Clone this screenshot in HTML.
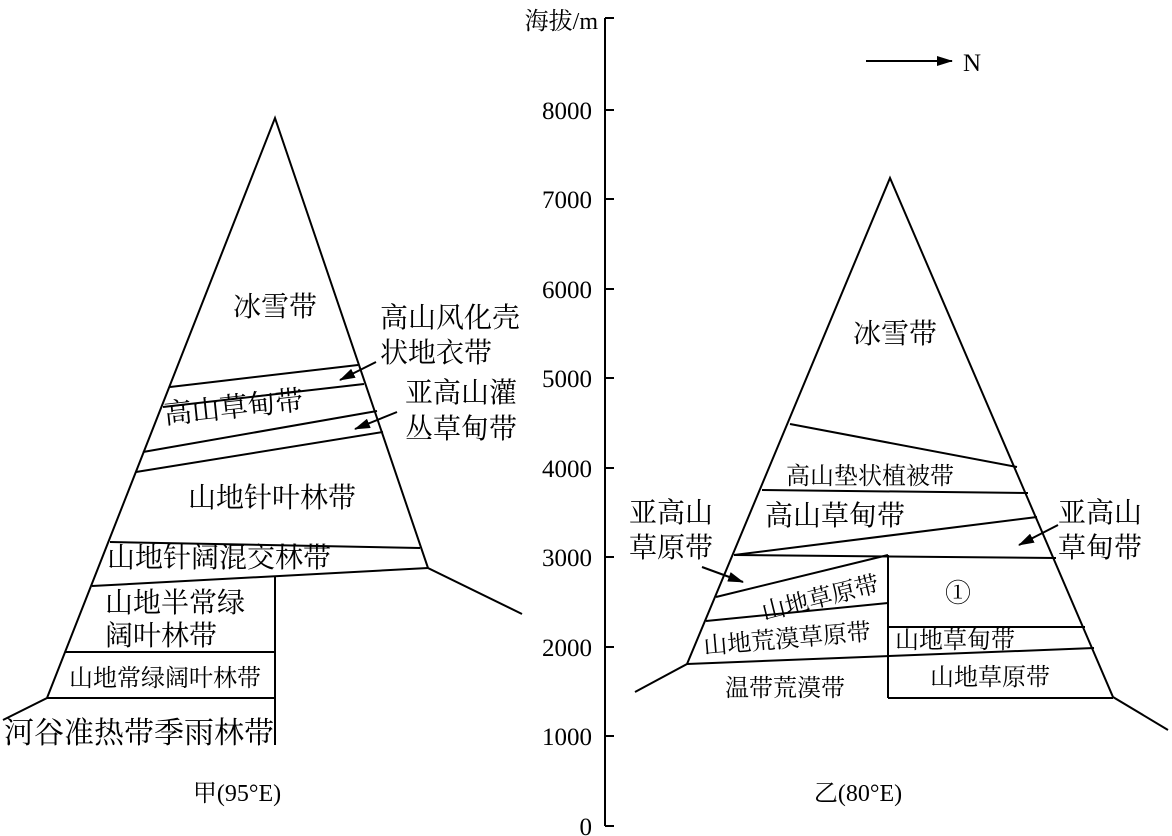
<!DOCTYPE html>
<html><head><meta charset="utf-8"><style>
html,body{margin:0;padding:0;background:#fff;}
svg{display:block;}
text{font-family:"Liberation Serif","Noto Serif CJK SC","Noto Sans CJK SC",serif;fill:#000;}
</style></head><body>
<svg width="1172" height="836" viewBox="0 0 1172 836" xmlns="http://www.w3.org/2000/svg">
<defs>
<marker id="ah2" markerWidth="16" markerHeight="10" refX="15" refY="5" orient="auto" markerUnits="userSpaceOnUse"><path d="M0,0 L16,5 L0,10 Z" fill="#000"/></marker></defs>
<g stroke="#000" stroke-width="2" fill="none">
<polyline points="3,720 47,698 275,118 428,568 522,614"/>
<line x1="170" y1="387" x2="358" y2="365"/>
<line x1="163" y1="407" x2="364" y2="384"/>
<line x1="143" y1="452" x2="377" y2="411"/>
<line x1="136" y1="472" x2="383" y2="432"/>
<line x1="110" y1="542" x2="420" y2="548"/>
<line x1="92" y1="586" x2="428" y2="568"/>
<line x1="275" y1="577" x2="275" y2="745"/>
<line x1="65" y1="652" x2="275" y2="652"/>
<line x1="47" y1="698" x2="275" y2="698"/>
<line x1="376" y1="362" x2="340" y2="380" marker-end="url(#ah2)"/>
<line x1="397" y1="412" x2="355" y2="429" marker-end="url(#ah2)"/>
<line x1="605" y1="18" x2="605" y2="826"/>
<line x1="605" y1="18" x2="614" y2="18"/>
<line x1="605" y1="110" x2="614" y2="110"/>
<line x1="605" y1="199" x2="614" y2="199"/>
<line x1="605" y1="289" x2="614" y2="289"/>
<line x1="605" y1="378" x2="614" y2="378"/>
<line x1="605" y1="468" x2="614" y2="468"/>
<line x1="605" y1="557" x2="614" y2="557"/>
<line x1="605" y1="647" x2="614" y2="647"/>
<line x1="605" y1="736" x2="614" y2="736"/>
<line x1="605" y1="826" x2="614" y2="826"/>
<polyline points="635,692 687,664 890,178 1113,697 1168,730"/>
<line x1="790" y1="424" x2="1017" y2="467"/>
<line x1="762" y1="490" x2="1028" y2="493"/>
<line x1="734" y1="555" x2="1037" y2="517"/>
<line x1="734" y1="555" x2="1056" y2="558"/>
<line x1="716" y1="597" x2="888" y2="555"/>
<line x1="888" y1="555" x2="888" y2="698"/>
<line x1="706" y1="621" x2="888" y2="603"/>
<line x1="888" y1="627" x2="1085" y2="627"/>
<line x1="687" y1="664" x2="1094" y2="648"/>
<line x1="888" y1="698" x2="1113" y2="698"/>
<line x1="702" y1="567" x2="743" y2="582" marker-end="url(#ah2)"/>
<line x1="1058" y1="525" x2="1019" y2="545" marker-end="url(#ah2)"/>
<line x1="866" y1="61" x2="952" y2="61" marker-end="url(#ah2)"/>
</g>
<g font-size="25" text-anchor="end">
<text x="592" y="119">8000</text><text x="592" y="208">7000</text><text x="592" y="298">6000</text>
<text x="592" y="387">5000</text><text x="592" y="477">4000</text><text x="592" y="566">3000</text>
<text x="592" y="656">2000</text><text x="592" y="745">1000</text><text x="592" y="835">0</text>
<text x="598" y="29" font-size="24">海拔/m</text>
</g>
<text x="963" y="71" font-size="25">N</text>
<g font-size="28">
<text x="275" y="316" text-anchor="middle">冰雪带</text>
<text x="380" y="327">高山风化壳</text>
<text x="380" y="362">状地衣带</text>
<text x="405" y="402">亚高山灌</text>
<text x="405" y="438">丛草甸带</text>
<text x="165" y="424" transform="rotate(-6 165 424)">高山草甸带</text>
<text x="272" y="507" text-anchor="middle">山地针叶林带</text>
<text x="107" y="567">山地针阔混交林带</text>
<text x="105" y="612">山地半常绿</text>
<text x="105" y="645">阔叶林带</text>
<text x="4" y="743" font-size="30">河谷准热带季雨林带</text>
<text x="895" y="343" text-anchor="middle">冰雪带</text>
<text x="835" y="525" text-anchor="middle">高山草甸带</text>
<text x="629" y="522">亚高山</text>
<text x="629" y="557">草原带</text>
<text x="1058" y="522">亚高山</text>
<text x="1058" y="557">草甸带</text>
</g>
<g font-size="24">
<text x="165" y="686" text-anchor="middle">山地常绿阔叶林带</text>
<text x="870" y="484" text-anchor="middle">高山垫状植被带</text>
<text x="820" y="606" text-anchor="middle" transform="rotate(-14 820 597)">山地草原带</text>
<text x="787" y="647" text-anchor="middle" transform="rotate(-5 787 638)">山地荒漠草原带</text>
<text x="955" y="648" text-anchor="middle">山地草甸带</text>
<text x="785" y="696" text-anchor="middle">温带荒漠带</text>
<text x="990" y="685" text-anchor="middle">山地草原带</text>
<text x="958" y="602" text-anchor="middle" font-size="26">①</text>
<text x="237" y="801" text-anchor="middle">甲(95°E)</text>
<text x="858" y="801" text-anchor="middle">乙(80°E)</text>
</g>
</svg>
</body></html>
